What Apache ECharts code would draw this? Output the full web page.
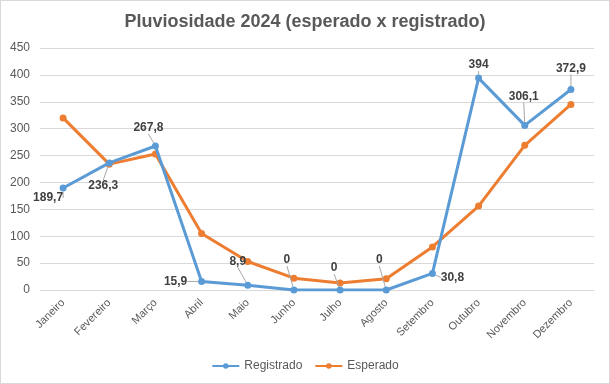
<!DOCTYPE html>
<html><head><meta charset="utf-8">
<script src="https://cdn.jsdelivr.net/npm/echarts@6/dist/echarts.min.js"></script>
<style>html,body{margin:0;padding:0;background:#fff}#c{width:610px;height:384px;box-sizing:border-box;border:1px solid #d9d9d9}</style>
</head><body><div id="c"></div>
<script>
const categories = ['Janeiro','Fevereiro','Março','Abril','Maio','Junho','Julho','Agosto','Setembro','Outubro','Novembro','Dezembro'];
const registrado = [189.7, 236.3, 267.8, 15.9, 8.9, 0, 0, 0, 30.8, 394, 306.1, 372.9];
const esperado = [320, 234, 253, 105, 53, 22, 13, 21, 80, 156, 269, 345];
const yTicks = {min: 0, max: 450, interval: 50};

// label offsets (dx, dy) from each point, in px
const labelOffsets = [[-15,10],[-6,23],[-7,-18],[-26,0],[-10,-24],[-7,-30],[-6,-22],[-7,-30],[20,4],[0,-13],[-1,-29],[0,-21]];

const chart = echarts.init(document.getElementById('c'));
const font = 'Liberation Sans, Arial, sans-serif';
chart.setOption({
  animation: false,
  title: {text: 'Pluviosidade 2024 (esperado x registrado)', left: 'center', top: 7,
    textStyle: {fontFamily: font, fontSize: 18, fontWeight: 'bold', color: '#595959'}},
  grid: {left: 39, right: 15, top: 47, bottom: 93},
  legend: {bottom: 6, left: 'center', itemWidth: 27, itemHeight: 7, itemGap: 12,
    textStyle: {fontFamily: font, fontSize: 12, color: '#595959'},
    data: ['Registrado', 'Esperado']},
  xAxis: {type: 'category', data: categories, boundaryGap: true,
    axisLine: {lineStyle: {color: '#d9d9d9'}}, axisTick: {show: false},
    axisLabel: {rotate: 45, fontFamily: font, fontSize: 11, color: '#595959', margin: 11, interval: 0}},
  yAxis: {type: 'value', min: yTicks.min, max: yTicks.max, interval: yTicks.interval,
    axisLine: {show: false}, axisTick: {show: false},
    splitLine: {lineStyle: {color: '#d9d9d9'}},
    axisLabel: {fontFamily: font, fontSize: 12, color: '#595959', margin: 10}},
  series: [
    {name: 'Registrado', type: 'line', data: registrado, symbol: 'circle', symbolSize: 7,
      lineStyle: {width: 3, color: '#5B9BD5'}, itemStyle: {color: '#5B9BD5'}, z: 3,
      label: {show: true, position: 'inside', fontFamily: font, fontSize: 12, fontWeight: 'bold', color: '#404040',
        formatter: p => String(p.value).replace('.', ',')},
      labelLine: {show: true, lineStyle: {color: '#a6a6a6', width: 1}},
      labelLayout: p => ({dx: labelOffsets[p.dataIndex][0], dy: labelOffsets[p.dataIndex][1]})},
    {name: 'Esperado', type: 'line', data: esperado, symbol: 'circle', symbolSize: 7,
      lineStyle: {width: 3, color: '#ED7D31'}, itemStyle: {color: '#ED7D31'}, z: 2}
  ]
});
</script></body></html>
